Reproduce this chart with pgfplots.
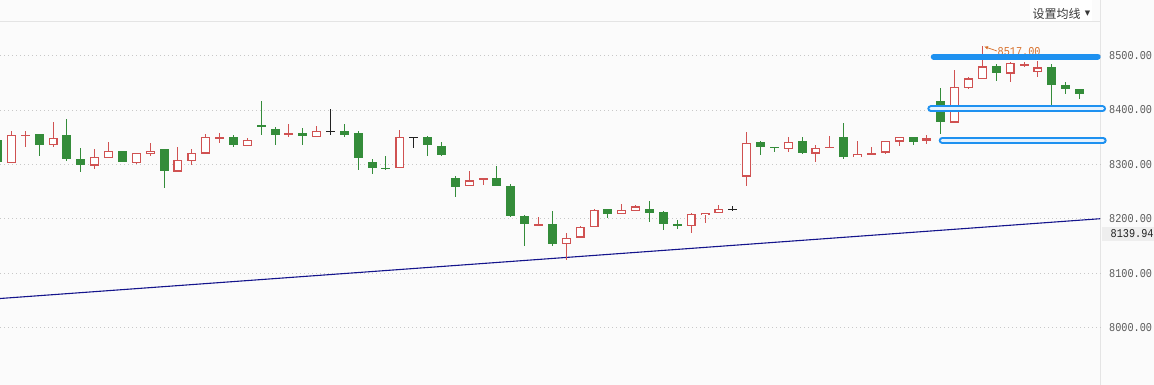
\documentclass[border=0pt]{standalone}
\usepackage{pgfplots}
\pgfplotsset{compat=1.18}
\usepackage{pgfplotstable}
\usetikzlibrary{arrows.meta}
\usepackage{fontspec}
\setmainfont{Liberation Sans}
\newfontfamily\tickfont[FakeStretch=0.85]{Liberation Mono}
\newfontfamily\cjk{Noto Sans CJK SC}
\newfontfamily\symfont{DejaVu Sans}
\definecolor{bg}{RGB}{251,251,251}
\definecolor{cred}{RGB}{208,82,82}
\definecolor{cgreen}{RGB}{52,140,58}
\definecolor{cblack}{RGB}{34,34,34}
\definecolor{trend}{RGB}{20,20,140}
\definecolor{hl}{RGB}{30,145,240}
\definecolor{hlin}{RGB}{228,242,255}
\definecolor{gridc}{RGB}{200,200,200}
\definecolor{framec}{RGB}{228,228,228}
\definecolor{labc}{RGB}{90,90,90}
\definecolor{annc}{RGB}{215,110,40}
\definecolor{boxc}{RGB}{238,238,238}

% up candles (k open high low close)
\pgfplotstableread{
k O H L C
1 8303 8361 8303 8355
2 8352 8361 8333 8355
4 8336 8378 8333 8349
7 8298 8328 8292 8314
8 8312 8341 8312 8325
10 8303 8322 8301 8321
11 8320 8339 8316 8325
13 8287 8332 8287 8308
14 8307 8328 8299 8321
15 8320 8356 8320 8350
16 8347 8357 8340 8350
18 8334 8348 8334 8345
21 8354 8374 8351 8358
23 8350 8371 8350 8361
29 8293 8364 8293 8350
34 8260 8288 8260 8271
35 8271 8275 8262 8275
39 8187 8203 8187 8191
41 8154 8174 8125 8166
42 8166 8188 8166 8185
43 8185 8218 8185 8216
45 8209 8227 8209 8216
46 8215 8226 8215 8223
50 8187 8212 8175 8209
51 8207 8212 8192 8212
52 8212 8226 8212 8218
54 8278 8360 8261 8339
57 8329 8350 8323 8341
59 8320 8335 8305 8331
60 8331 8352 8331 8333
62 8313 8343 8313 8319
63 8318 8332 8318 8322
64 8322 8343 8320 8343
65 8342 8350 8334 8350
67 8344 8354 8337 8348
69 8377 8473 8377 8442
70 8441 8460 8438 8458
71 8457 8517 8457 8480
73 8467 8488 8452 8486
74 8481 8488 8478 8484
75 8470 8490 8461 8478
}\redtab

% down candles
\pgfplotstableread{
k O H L C
0 8345 8347 8305 8305
3 8356 8356 8316 8336
5 8354 8383 8307 8311
6 8310 8330 8286 8300
9 8325 8325 8305 8305
12 8328 8328 8256 8288
17 8350 8354 8333 8336
19 8372 8417 8355 8369
20 8365 8369 8336 8355
22 8358 8367 8336 8353
25 8361 8374 8351 8355
26 8358 8361 8290 8312
27 8305 8310 8283 8294
28 8294 8316 8290 8292
31 8350 8352 8316 8336
32 8334 8341 8316 8317
33 8275 8279 8241 8259
36 8275 8297 8261 8261
37 8261 8264 8204 8206
38 8205 8207 8151 8191
40 8191 8215 8151 8154
44 8218 8218 8202 8210
47 8218 8233 8195 8212
48 8213 8215 8180 8191
49 8191 8198 8182 8188
55 8341 8343 8317 8333
56 8332 8332 8323 8331
58 8343 8351 8320 8321
61 8350 8376 8310 8314
66 8350 8350 8335 8342
68 8416 8440 8356 8378
72 8480 8484 8454 8468
76 8479 8484 8410 8446
77 8446 8451 8430 8438
78 8438 8438 8421 8430
}\greentab

% unchanged candles
\pgfplotstableread{
k O H L C
24 8361 8402 8355 8361
30 8350 8350 8331 8350
53 8218 8224 8215 8218
}\blacktab

\pgfplotsset{
  candlepart/.style n args={2}{forget plot, draw=none, mark=none,
    error bars/.cd, y dir=both, y explicit, error mark=none,
    error bar style={draw=#1, line width=#2, solid}},
}

\begin{document}
\begin{tikzpicture}[x=1pt,y=1pt]
\useasboundingbox (0,0) rectangle (1154,385);
\fill[bg] (0,0) rectangle (1154,385);
% frame lines
\draw[framec, line width=1pt] (1100.5,0) -- (1100.5,385);
\draw[framec, line width=1pt] (0,363) -- (1100,363);
% high annotation (under the highlight line)
\draw[annc, line width=0.7pt, -{Latex[length=4pt,width=3.5pt]}] (997,334) -- (984,338.5);
\node[anchor=west, inner sep=0pt, text=annc, font=\tickfont\fontsize{12}{14}\selectfont] at (997.5,333.5) {8517.00};
\begin{axis}[
  at={(0pt,0pt)}, anchor=south west,
  scale only axis, width=1100pt, height=363pt,
  xmin=0.171, xmax=79.48, ymin=7895.4, ymax=8561.5,
  axis line style={draw=none},
  xtick=\empty,
  ytick={8000,8100,8200,8300,8400,8500},
  ymajorgrids,
  grid style={gridc, line width=1pt, dash pattern=on 1pt off 3pt},
  major tick length=0pt,
  yticklabel pos=right,
  yticklabel style={anchor=west, xshift=9pt, inner sep=0pt, font=\tickfont\fontsize{12}{14}\selectfont, text=labc},
  /pgf/number format/.cd, fixed, fixed zerofill, precision=2, 1000 sep={}, assume math mode=true,
  /pgfplots/.cd,
  clip=false,
]
% trend line
\addplot[trend, line width=1.1pt, forget plot] coordinates {(0.171,8054.1) (79.48,8200.5)};
% wicks
\addplot[candlepart={cgreen}{1pt}]
  table[x=k, y expr={(\thisrow{H}+\thisrow{L})/2}, y error expr={(\thisrow{H}-\thisrow{L})/2}] {\greentab};
\addplot[candlepart={cred}{1pt}]
  table[x=k, y expr={(\thisrow{H}+\thisrow{L})/2}, y error expr={(\thisrow{H}-\thisrow{L})/2}] {\redtab};
\addplot[candlepart={cblack}{1pt}]
  table[x=k, y expr={(\thisrow{H}+\thisrow{L})/2}, y error expr={(\thisrow{H}-\thisrow{L})/2}] {\blacktab};
% bodies
\addplot[candlepart={cgreen}{9pt}]
  table[x=k, y expr={(\thisrow{O}+\thisrow{C})/2}, y error expr={max(abs(\thisrow{O}-\thisrow{C})/2,0.9)}] {\greentab};
\addplot[candlepart={cred}{9pt}]
  table[x=k, y expr={(\thisrow{O}+\thisrow{C})/2}, y error expr={max(abs(\thisrow{O}-\thisrow{C})/2,0.9)}] {\redtab};
\addplot[candlepart={white}{6.6pt}]
  table[x=k, y expr={(\thisrow{O}+\thisrow{C})/2}, y error expr={max(abs(\thisrow{O}-\thisrow{C})/2-2.1,0)}] {\redtab};
\addplot[candlepart={cblack}{9pt}]
  table[x=k, y expr={(\thisrow{O}+\thisrow{C})/2}, y error expr={max(abs(\thisrow{O}-\thisrow{C})/2,0.9)}] {\blacktab};
% highlight lines
\addplot[forget plot, hl, line width=6pt, line cap=round] coordinates {(67.49,8498) (79.31,8498)};
\addplot[forget plot, hl, line width=7pt, line cap=round] coordinates {(67.28,8402) (79.66,8402)};
\addplot[forget plot, hlin, line width=3pt, line cap=round] coordinates {(67.28,8402) (79.66,8402)};
\addplot[forget plot, hl, line width=7pt, line cap=round] coordinates {(68.10,8344.4) (79.71,8344.4)};
\addplot[forget plot, hlin, line width=3pt, line cap=round] coordinates {(68.10,8344.4) (79.71,8344.4)};
\end{axis}
% last price box
\fill[boxc] (1102,144) rectangle (1154,158);
\node[anchor=west, inner sep=0pt, text=cblack, font=\tickfont\fontsize{12}{14}\selectfont] at (1110.5,151) {8139.94};
% button
\fill[white] (1030,363.5) rectangle (1092,385);
\node[anchor=west, inner sep=0pt, text=cblack!90, font=\cjk\fontsize{12}{14}\selectfont] at (1032.5,371.5) {设置均线};
\node[inner sep=0pt, text=cblack!90, font=\symfont\fontsize{7}{8}\selectfont] at (1087.5,371.5) {▼};
\end{tikzpicture}
\end{document}
